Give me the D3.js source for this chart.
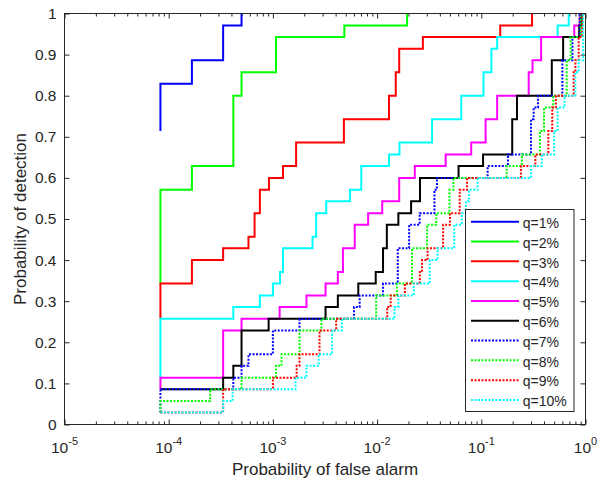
<!DOCTYPE html>
<html><head><meta charset="utf-8">
<script src="https://cdn.jsdelivr.net/npm/d3@7"></script>
<style>
body{margin:0;background:#fff}
svg{display:block}
text{font-family:"Liberation Sans",Arial,Helvetica,sans-serif;fill:#262626}
</style>
</head><body>
<svg id="c" width="600" height="483"></svg>
<script>
// ---- data: [probability of false alarm, probability of detection] ----
const q1 = [[8.33e-5,0.714],[8.33e-5,0.829],[1.67e-4,0.886],[3.33e-4,0.971],[5e-4,1]];
const q2 = [[8.33e-5,0.343],[8.33e-5,0.571],[1.67e-4,0.629],[4.17e-4,0.8],[5e-4,0.857],[1.07e-3,0.943],[4.85e-3,0.971],[0.0194,1]];
const q3 = [[8.33e-5,0.257],[8.33e-5,0.343],[1.67e-4,0.4],[3.33e-4,0.429],[5.83e-4,0.457],[6.67e-4,0.514],[7.5e-4,0.571],[9.17e-4,0.6],[1.25e-3,0.629],[1.67e-3,0.686],[4.8e-3,0.743],[0.013,0.8],[0.0151,0.857],[0.0163,0.914],[0.0275,0.943],[0.152,0.971],[0.307,1]];
const q4 = [[8.33e-5,0.114],[8.33e-5,0.257],[4.17e-4,0.286],[7.5e-4,0.314],[1e-3,0.343],[1.17e-3,0.371],[1.25e-3,0.429],[2.4e-3,0.457],[2.6e-3,0.514],[3.25e-3,0.543],[5.5e-3,0.571],[7.05e-3,0.629],[0.013,0.657],[0.0164,0.686],[0.0337,0.743],[0.0642,0.8],[0.105,0.857],[0.125,0.914],[0.142,0.943],[0.54,0.971],[0.69,1]];
const q5 = [[8.33e-5,0.086],[8.33e-5,0.114],[3.33e-4,0.229],[5e-4,0.257],[1.16e-3,0.286],[2.1e-3,0.314],[3.2e-3,0.343],[4.2e-3,0.371],[4.7e-3,0.429],[6.1e-3,0.486],[8.2e-3,0.514],[0.0112,0.543],[0.0163,0.6],[0.023,0.629],[0.0455,0.657],[0.08,0.686],[0.11,0.743],[0.142,0.8],[0.285,0.857],[0.31,0.886],[0.375,0.943],[0.78,0.971],[0.88,1]];
const q6 = [[8.33e-5,0.086],[3.33e-4,0.114],[4.17e-4,0.143],[5e-4,0.229],[9.1e-4,0.257],[3.2e-3,0.286],[4.2e-3,0.314],[6.6e-3,0.343],[9.7e-3,0.371],[0.0114,0.429],[0.0124,0.486],[0.016,0.514],[0.0212,0.543],[0.0258,0.6],[0.0605,0.629],[0.104,0.657],[0.198,0.743],[0.22,0.8],[0.475,0.886],[0.61,0.943],[0.87,0.971],[0.92,1]];
const q7 = [[8.33e-5,0.029],[8.33e-5,0.086],[4.17e-4,0.114],[5e-4,0.143],[5.83e-4,0.171],[1e-3,0.229],[1.8e-3,0.257],[6e-3,0.286],[6.8e-3,0.314],[0.0114,0.343],[0.0158,0.429],[0.0203,0.486],[0.0256,0.514],[0.0355,0.571],[0.0375,0.6],[0.115,0.629],[0.18,0.657],[0.3,0.743],[0.318,0.771],[0.35,0.8],[0.6,0.886],[0.75,0.943],[0.88,1]];
const q8 = [[8.33e-5,0.029],[8.33e-5,0.057],[2.5e-4,0.086],[5e-4,0.114],[1.07e-3,0.143],[1.21e-3,0.171],[1.8e-3,0.229],[2.92e-3,0.257],[9.8e-3,0.314],[0.0155,0.343],[0.0216,0.429],[0.0302,0.486],[0.037,0.514],[0.0495,0.571],[0.054,0.6],[0.175,0.629],[0.245,0.657],[0.365,0.714],[0.4,0.771],[0.49,0.8],[0.66,0.886],[0.72,0.943],[0.9,1]];
const q9 = [[8.33e-5,0.029],[3.33e-4,0.086],[1e-3,0.114],[1.69e-3,0.143],[1.8e-3,0.171],[2.8e-3,0.229],[4.05e-3,0.257],[0.0125,0.286],[0.0135,0.314],[0.0185,0.343],[0.0257,0.371],[0.027,0.4],[0.0305,0.429],[0.043,0.486],[0.05,0.514],[0.062,0.571],[0.073,0.6],[0.24,0.629],[0.33,0.657],[0.44,0.714],[0.48,0.771],[0.52,0.8],[0.77,0.857],[0.8,0.886],[0.86,0.943],[0.93,1]];
const q10 = [[8.33e-5,0.029],[3.33e-4,0.057],[4.1e-4,0.086],[1.65e-3,0.114],[2.1e-3,0.143],[2.75e-3,0.171],[3.7e-3,0.229],[4.6e-3,0.257],[0.0147,0.286],[0.016,0.314],[0.0225,0.343],[0.032,0.4],[0.038,0.429],[0.055,0.486],[0.065,0.514],[0.071,0.543],[0.076,0.571],[0.092,0.6],[0.3,0.629],[0.38,0.657],[0.5,0.714],[0.54,0.771],[0.63,0.8],[0.8,0.857],[0.86,0.886],[0.95,1]];

const seriesData = [q1,q2,q3,q4,q5,q6,q7,q8,q9,q10];
const seriesLabels = ["q=1%","q=2%","q=3%","q=4%","q=5%","q=6%","q=7%","q=8%","q=9%","q=10%"];
const xTickExponents = [-5,-4,-3,-2,-1,0];
const yTickValues = [0,0.1,0.2,0.3,0.4,0.5,0.6,0.7,0.8,0.9,1];
const yTickLabels = ["0","0.1","0.2","0.3","0.4","0.5","0.6","0.7","0.8","0.9","1"];
const xLabel = "Probability of false alarm";
const yLabel = "Probability of detection";

// ---- styles ----
const seriesColors = ["#0000ff","#00ff00","#ff0000","#00ffff","#ff00ff","#000000","#0000ff","#00ff00","#ff0000","#00ffff"];
const seriesDotted = [false,false,false,false,false,false,true,true,true,true];
const axisColor = "#262626";

// ---- layout ----
const L = 64.5, R = 585.5, T = 13.5, B = 424.5;
const svg = d3.select("#c");
const x = d3.scaleLog().domain([1e-5, 1]).range([L, R]);
const y = d3.scaleLinear().domain([0, 1]).range([B, T]);

// background
svg.append("rect").attr("width",600).attr("height",483).attr("fill","#fff");

// ticks via d3 axes (inside ticks)
const majorX = xTickExponents.map(e => Math.pow(10, e));
const minorX = [];
for (let e = -5; e < 0; e++) for (let k = 2; k <= 9; k++) minorX.push(k * Math.pow(10, e));

function styleAxis(g){ g.select(".domain").remove(); g.selectAll("line").attr("stroke",axisColor).attr("stroke-width",1); }

svg.append("g").attr("transform",`translate(0,${B})`)
  .call(d3.axisBottom(x).tickValues(majorX).tickSize(-5).tickFormat("")).call(styleAxis);
svg.append("g").attr("transform",`translate(0,${B})`)
  .call(d3.axisBottom(x).tickValues(minorX).tickSize(-3).tickFormat("")).call(styleAxis);
svg.append("g").attr("transform",`translate(0,${T})`)
  .call(d3.axisTop(x).tickValues(majorX).tickSize(-5).tickFormat("")).call(styleAxis);
svg.append("g").attr("transform",`translate(0,${T})`)
  .call(d3.axisTop(x).tickValues(minorX).tickSize(-3).tickFormat("")).call(styleAxis);

const yAxisG = svg.append("g").attr("transform",`translate(${L},0)`)
  .call(d3.axisLeft(y).tickValues(yTickValues).tickSize(-5).tickPadding(8)
        .tickFormat((d,i) => yTickLabels[i]));
styleAxis(yAxisG);
yAxisG.selectAll("text").attr("fill",axisColor).style("font-size","15.5px")
  .style("font-family",'"Liberation Sans",Arial,sans-serif');
svg.append("g").attr("transform",`translate(${R},0)`)
  .call(d3.axisRight(y).tickValues(yTickValues).tickSize(-5).tickFormat("")).call(styleAxis);

// x tick labels with superscripts
const xl = svg.append("g");
xTickExponents.forEach(e => {
  const t = xl.append("text").attr("x", x(Math.pow(10,e))).attr("y", 453)
    .attr("text-anchor","middle").style("font-size","15.5px");
  t.append("tspan").text("10");
  t.append("tspan").attr("dy",-8).style("font-size","11px").text(String(e));
});

// curves
const line = d3.line().x(d => x(d[0])).y(d => y(d[1])).curve(d3.curveStepAfter);
seriesData.forEach((s, i) => {
  svg.append("path").attr("d", line(s)).attr("fill","none")
    .attr("stroke", seriesColors[i]).attr("stroke-width", 2)
    .attr("stroke-dasharray", seriesDotted[i] ? "2,1.5" : null);
});

// box
svg.append("rect").attr("x",L).attr("y",T).attr("width",R-L).attr("height",B-T)
  .attr("fill","none").attr("stroke",axisColor).attr("stroke-width",1);

// axis labels
svg.append("text").attr("x",(L+R)/2).attr("y",475).attr("text-anchor","middle")
  .style("font-size","17px").text(xLabel);
svg.append("text").attr("transform",`translate(25.5,${(T+B)/2}) rotate(-90)`)
  .attr("text-anchor","middle").style("font-size","17px").text(yLabel);

// legend
const lg = svg.append("g");
lg.append("rect").attr("x",465.5).attr("y",209.5).attr("width",108.5).attr("height",202)
  .attr("fill","#fff").attr("stroke",axisColor).attr("stroke-width",1);
seriesLabels.forEach((lab, i) => {
  const ly = 221.7 + i * 19.81;
  lg.append("line").attr("x1",471).attr("x2",519).attr("y1",ly).attr("y2",ly)
    .attr("stroke",seriesColors[i]).attr("stroke-width",2)
    .attr("stroke-dasharray", seriesDotted[i] ? "2,1.5" : null);
  lg.append("text").attr("x",522.7).attr("y",ly+6.3).style("font-size","14px").attr("fill","#000").text(lab);
});
</script>
</body></html>
